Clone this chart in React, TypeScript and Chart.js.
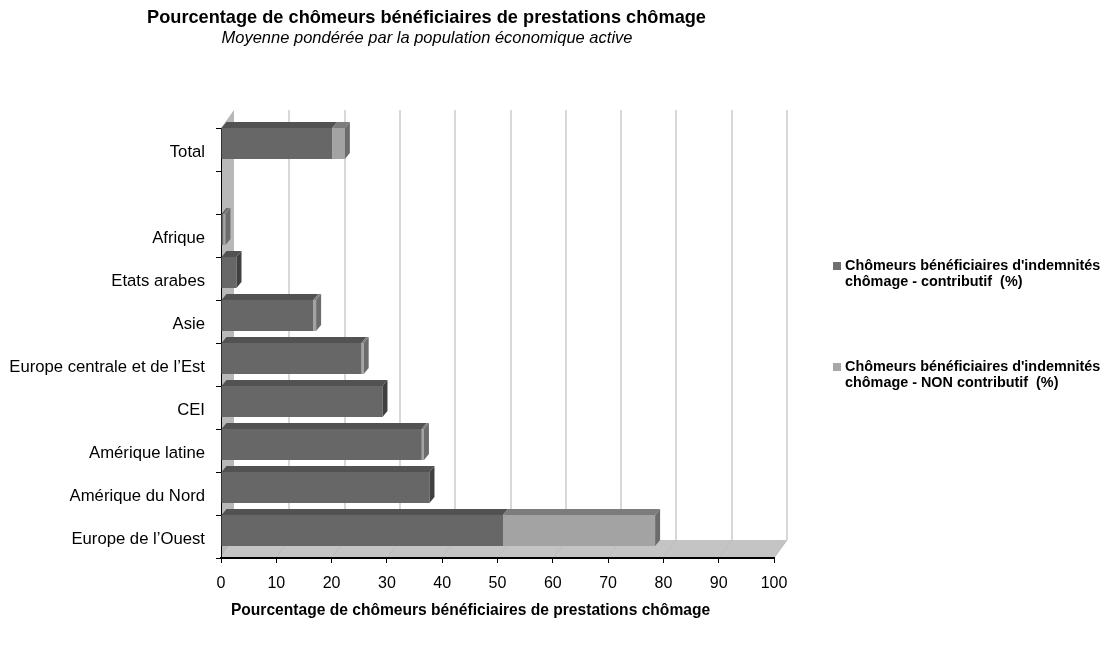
import React, { useEffect, useRef } from "react";
import { Chart, registerables } from "chart.js";

Chart.register(...registerables);

const categories = [
  "Total",
  "",
  "Afrique",
  "Etats arabes",
  "Asie",
  "Europe centrale et de l\u2019Est",
  "CEI",
  "Amérique latine",
  "Amérique du Nord",
  "Europe de l\u2019Ouest",
];
const contributif = [20.1, 0, 0.4, 2.8, 16.7, 25.4, 29.2, 36.3, 37.7, 51.0];
const nonContributif = [2.3, 0, 0.4, 0, 0.5, 0.4, 0, 0.4, 0, 27.5];

const seriesLabels = [
  "Chômeurs bénéficiaires d'indemnités chômage - contributif  (%)",
  "Chômeurs bénéficiaires d'indemnités chômage - NON contributif  (%)",
];
const legendLines = [
  ["Chômeurs bénéficiaires d'indemnités", "chômage - contributif  (%)"],
  ["Chômeurs bénéficiaires d'indemnités", "chômage - NON contributif  (%)"],
];
const titleText = "Pourcentage de chômeurs bénéficiaires de prestations chômage";
const subtitleText = "Moyenne pondérée par la population économique active";
const xAxisTitle = "Pourcentage de chômeurs bénéficiaires de prestations chômage";

const FONT = "'Liberation Sans', Arial, sans-serif";
const frontColors = ["#676767", "#a3a3a3"];
const topColors = ["#525252", "#7c7c7c"];
const sideColors = ["#404040", "#6c6c6c"];
const legendColors = ["#707070", "#a8a8a8"];

const WALL_DX = 13;
const WALL_DY = 18;
const BAR_DX = 5;
const BAR_DY = 6;
const BAR_SHIFT = 6;

const deco = {
  id: "deco3d",
  beforeDraw(chart: any) {
    const { ctx, chartArea: ca, scales } = chart;
    const xs = scales.x;
    ctx.save();
    ctx.fillStyle = "#b8b8b8";
    ctx.beginPath();
    ctx.moveTo(ca.left, ca.top);
    ctx.lineTo(ca.left + WALL_DX, ca.top - WALL_DY);
    ctx.lineTo(ca.left + WALL_DX, ca.bottom - WALL_DY);
    ctx.lineTo(ca.left, ca.bottom);
    ctx.closePath();
    ctx.fill();
    ctx.fillStyle = "#c4c4c4";
    ctx.beginPath();
    ctx.moveTo(ca.left, ca.bottom);
    ctx.lineTo(ca.right, ca.bottom);
    ctx.lineTo(ca.right + WALL_DX, ca.bottom - WALL_DY);
    ctx.lineTo(ca.left + WALL_DX, ca.bottom - WALL_DY);
    ctx.closePath();
    ctx.fill();
    for (const t of xs.ticks) {
      if (t.value === 0) continue;
      const px = Math.round(xs.getPixelForValue(t.value)) + WALL_DX;
      ctx.strokeStyle = "#d8d8d8";
      ctx.lineWidth = 2;
      ctx.beginPath();
      ctx.moveTo(px, ca.top - WALL_DY);
      ctx.lineTo(px, ca.bottom - WALL_DY);
      ctx.stroke();
      ctx.strokeStyle = "#bcbcbc";
      ctx.lineWidth = 1;
      ctx.beginPath();
      ctx.moveTo(px, ca.bottom - WALL_DY);
      ctx.lineTo(px - WALL_DX, ca.bottom);
      ctx.stroke();
    }
    ctx.restore();
  },
  beforeDatasetsDraw(chart: any) {
    chart.ctx.save();
    chart.ctx.translate(0, -BAR_SHIFT);
  },
  afterDatasetsDraw(chart: any) {
    const { ctx } = chart;
    const n = chart.data.labels.length;
    const metas = chart.data.datasets.map((_: any, i: number) => chart.getDatasetMeta(i));
    for (let j = 0; j < n; j++) {
      let lastIdx = -1;
      metas.forEach((m: any, i: number) => {
        const el = m.data[j];
        const p = el.getProps(["x", "y", "base", "height"], true);
        if (Math.abs(p.x - p.base) < 0.5) return;
        lastIdx = i;
        const top = p.y - p.height / 2;
        ctx.fillStyle = topColors[i];
        ctx.beginPath();
        ctx.moveTo(p.base, top);
        ctx.lineTo(p.x, top);
        ctx.lineTo(p.x + BAR_DX, top - BAR_DY);
        ctx.lineTo(p.base + BAR_DX, top - BAR_DY);
        ctx.closePath();
        ctx.fill();
      });
      if (lastIdx >= 0) {
        const el = metas[lastIdx].data[j];
        const p = el.getProps(["x", "y", "base", "height"], true);
        const top = p.y - p.height / 2;
        ctx.fillStyle = sideColors[lastIdx];
        ctx.beginPath();
        ctx.moveTo(p.x, top);
        ctx.lineTo(p.x + BAR_DX, top - BAR_DY);
        ctx.lineTo(p.x + BAR_DX, top + p.height - BAR_DY);
        ctx.lineTo(p.x, top + p.height);
        ctx.closePath();
        ctx.fill();
      }
    }
    ctx.restore();
  },
  afterDraw(chart: any) {
    const { ctx } = chart;
    ctx.save();
    ctx.fillStyle = "#000";
    ctx.textBaseline = "middle";
    ctx.textAlign = "center";
    ctx.font = `bold 18.2px ${FONT}`;
    ctx.fillText(titleText, 426.5, 18);
    ctx.font = `italic 16.5px ${FONT}`;
    ctx.fillText(subtitleText, 427, 38);
    ctx.font = `bold 15.6px ${FONT}`;
    ctx.fillText(xAxisTitle, 470.5, 611);
    ctx.textAlign = "left";
    ctx.font = `bold 14.4px ${FONT}`;
    const ys = [266, 367];
    legendLines.forEach((lines, i) => {
      ctx.fillStyle = legendColors[i];
      ctx.fillRect(833, ys[i] - 4, 8, 8);
      ctx.fillStyle = "#000";
      lines.forEach((l, k) => ctx.fillText(l, 845, ys[i] + k * 16));
    });
    ctx.restore();
  },
};

export default function App() {
  const ref = useRef<HTMLCanvasElement>(null);
  useEffect(() => {
    document.body.style.margin = "0";
    Chart.defaults.font.family = FONT;
    const chart = new Chart(ref.current as HTMLCanvasElement, {
      type: "bar",
      data: {
        labels: categories,
        datasets: [
          {
            label: seriesLabels[0],
            data: contributif,
            backgroundColor: frontColors[0],
            borderWidth: 0,
            categoryPercentage: 0.72,
            barPercentage: 1,
          },
          {
            label: seriesLabels[1],
            data: nonContributif,
            backgroundColor: frontColors[1],
            borderWidth: 0,
            categoryPercentage: 0.72,
            barPercentage: 1,
          },
        ],
      },
      options: {
        indexAxis: "y",
        responsive: false,
        animation: false,
        devicePixelRatio: 1,
        layout: { padding: { top: 128, right: 330, bottom: 0, left: 0 } },
        plugins: {
          legend: { display: false },
          title: { display: false },
          tooltip: { enabled: false },
        },
        scales: {
          x: {
            stacked: true,
            min: 0,
            max: 100,
            ticks: { stepSize: 10, color: "#000", font: { size: 16 }, padding: 11, maxRotation: 0 },
            grid: { drawOnChartArea: false, drawTicks: true, tickLength: 5, color: "#000" },
            border: { color: "#000", width: 2 },
            afterFit: (s: any) => {
              s.height = 91;
            },
          },
          y: {
            stacked: true,
            ticks: { color: "#000", font: { size: 16.7 }, padding: 11, autoSkip: false, labelOffset: 3 },
            grid: { drawOnChartArea: false, drawTicks: true, tickLength: 5, color: "#000", offset: true },
            border: { color: "#000", width: 1 },
            afterFit: (s: any) => {
              s.width = 221;
            },
          },
        },
      } as any,
      plugins: [deco],
    });
    return () => chart.destroy();
  }, []);
  return (
    <div style={{ width: 1104, height: 649 }}>
      <canvas ref={ref} width={1104} height={649} style={{ display: "block" }} />
    </div>
  );
}
